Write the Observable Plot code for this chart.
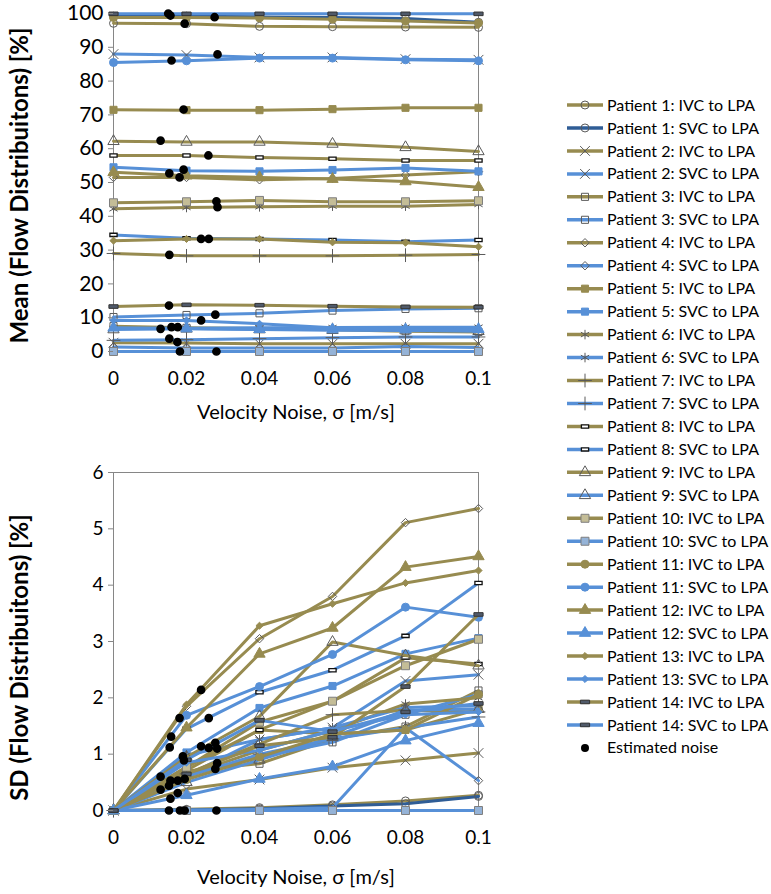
<!DOCTYPE html>
<html><head><meta charset="utf-8">
<script src="https://cdn.jsdelivr.net/npm/d3@7"></script>
<script src="https://cdn.jsdelivr.net/npm/@observablehq/plot@0.6"></script>
<style>
body{margin:0;background:#fff;font-family:Lato,"Open Sans",sans-serif;}
#wrap{position:relative;width:771px;height:894px;overflow:hidden;}
#top,#bottom,#legend{position:absolute;}
#top{left:0;top:0}
#bottom{left:0;top:430px}
#legend{left:555px;top:0}
svg{overflow:visible}
</style></head><body>
<div id="wrap"><div id="top"></div><div id="bottom"></div><div id="legend"></div></div>
<script>
const noiseLevels = [0, 0.02, 0.04, 0.06, 0.08, 0.1];
const xTicks = [0, 0.02, 0.04, 0.06, 0.08, 0.1];
const meanTicks = [0, 10, 20, 30, 40, 50, 60, 70, 80, 90, 100];
const sdTicks = [0, 1, 2, 3, 4, 5, 6];
const patients = [1,2,3,4,5,6,7,8,9,10,11,12,13,14];
const routes = ["IVC to LPA", "SVC to LPA"];

// mean flow distribution [%] per series (P1 IVC, P1 SVC, P2 IVC, ...)
const meanValues = [
  [97.1, 97.0, 96.2, 96.1, 96.0, 95.9],
  [99.2, 99.2, 99.0, 98.8, 98.5, 97.4],
  [2.6, 2.5, 2.3, 2.3, 2.3, 2.3],
  [88.0, 87.7, 87.0, 87.0, 86.5, 86.3],
  [7.5, 7.0, 6.8, 6.4, 6.0, 5.8],
  [10.2, 10.8, 11.3, 12.1, 12.6, 12.8],
  [51.5, 51.5, 50.8, 51.2, 52.2, 53.2],
  [1.3, 1.0, 1.0, 1.0, 1.5, 1.2],
  [71.5, 71.4, 71.4, 71.7, 72.1, 72.1],
  [54.5, 53.5, 53.3, 53.7, 54.3, 53.3],
  [42.2, 42.6, 42.8, 43.0, 43.0, 43.5],
  [6.8, 6.9, 7.0, 7.1, 7.2, 7.2],
  [29.0, 28.3, 28.3, 28.3, 28.5, 28.7],
  [3.3, 3.5, 3.8, 4.1, 4.3, 4.3],
  [58.0, 58.0, 57.4, 57.0, 56.5, 56.5],
  [34.5, 33.5, 33.3, 33.0, 32.5, 33.0],
  [62.2, 62.0, 62.0, 61.4, 60.4, 59.2],
  [6.5, 6.7, 6.5, 6.3, 6.2, 6.0],
  [44.0, 44.3, 44.7, 44.3, 44.3, 44.6],
  [0, 0, 0, 0, 0, 0],
  [98.8, 98.8, 98.7, 98.3, 97.8, 97.2],
  [85.5, 86.0, 86.8, 86.8, 86.3, 86.0],
  [53.0, 52.0, 51.5, 51.0, 50.3, 48.6],
  [7.0, 6.8, 6.6, 6.5, 6.5, 6.6],
  [32.8, 33.3, 33.3, 32.3, 32.2, 31.0],
  [9.2, 9.2, 8.2, 7.0, 6.5, 6.3],
  [13.3, 13.8, 13.7, 13.4, 13.2, 13.1],
  [99.9, 99.9, 99.9, 99.9, 99.9, 99.9]
];

// SD of flow distribution [%] per series
const sdValues = [
  [0, 0.02, 0.05, 0.10, 0.17, 0.27],
  [0, 0.01, 0.03, 0.08, 0.12, 0.25],
  [0, 0.38, 0.55, 0.76, 0.89, 1.02],
  [0, 0.62, 1.26, 1.47, 2.30, 2.41],
  [0, 0.70, 0.83, 1.27, 1.49, 2.13],
  [0, 0.62, 0.95, 1.21, 1.70, 2.06],
  [0, 1.85, 3.05, 3.80, 5.11, 5.36],
  [0, 0.01, 0.02, 0.05, 1.47, 0.53],
  [0, 0.71, 1.43, 1.36, 1.43, 1.80],
  [0, 1.03, 1.82, 2.21, 2.78, 3.06],
  [0, 0.62, 1.07, 1.42, 1.89, 2.00],
  [0, 0.98, 1.26, 1.47, 1.83, 1.86],
  [0, 0.65, 1.18, 1.70, 1.78, 1.75],
  [0, 0.60, 1.00, 1.27, 1.47, 1.66],
  [0, 0.77, 1.43, 1.94, 2.71, 2.60],
  [0, 1.45, 2.10, 2.49, 3.10, 4.04],
  [0, 0.95, 1.67, 2.99, 2.75, 2.57],
  [0, 0.50, 0.90, 1.30, 1.78, 1.80],
  [0, 0.77, 1.57, 1.94, 2.57, 3.04],
  [0, 0, 0, 0, 0, 0],
  [0, 0.55, 0.95, 1.36, 1.43, 2.06],
  [0, 1.69, 2.20, 2.77, 3.61, 3.43],
  [0, 1.47, 2.78, 3.24, 4.32, 4.51],
  [0, 0.27, 0.56, 0.78, 1.24, 1.55],
  [0, 1.88, 3.28, 3.67, 4.04, 4.26],
  [0, 0.85, 1.07, 1.42, 1.70, 1.75],
  [0, 0.65, 1.15, 1.30, 2.20, 3.48],
  [0, 0.90, 1.60, 1.40, 1.75, 1.90]
];

// Estimated noise points
const estMeanX = [0.0150,0.0156,0.0277,0.0195,0.0159,0.0285,0.0192,0.0129,0.0260,0.0153,0.0192,0.0181,0.0282,0.0285,0.0240,0.0261,0.0153,0.0152,0.0279,0.0240,0.0129,0.0159,0.0176,0.0153,0.0175,0.0182,0.0282];
const estMeanY = [100,99.4,98.9,97.0,86.1,87.9,71.6,62.4,58.0,52.7,53.8,51.5,44.4,42.7,33.3,33.3,28.6,13.6,10.9,9.2,6.7,7.2,7.2,3.8,2.8,0,0];
const estSdX = [0.0240,0.0181,0.0261,0.0158,0.0154,0.0190,0.0193,0.0240,0.0261,0.0279,0.0284,0.0284,0.0279,0.0129,0.0129,0.0156,0.0152,0.0176,0.0195,0.0156,0.0176,0.0152,0.0182,0.0195,0.0282];
const estSdY = [2.14,1.64,1.64,1.31,1.12,0.96,0.89,1.14,1.11,1.20,1.10,0.84,0.74,0.60,0.37,0.53,0.44,0.53,0.56,0.21,0.31,0,0,0,0];

// ---------- styles ----------
const OLIVE = "#978B50", BLUE = "#5790D7", DARKBLUE = "#2F5D96", MK = "#5a5a5a", AXIS = "#868686";
const rectSmall = {draw(ctx, size){const r=Math.sqrt(size/Math.PI);const w=r*1.0,h=r*0.45;ctx.moveTo(-w,-h);ctx.lineTo(w,-h);ctx.lineTo(w,h);ctx.lineTo(-w,h);ctx.closePath();}};
const rectDark = {draw(ctx, size){const r=Math.sqrt(size/Math.PI);const w=r*1.15,h=r*0.45;ctx.moveTo(-w,-h);ctx.lineTo(w,-h);ctx.lineTo(w,h);ctx.lineTo(-w,h);ctx.closePath();}};

function styleFor(p, isSvc){
  const line = isSvc ? (p === 1 ? DARKBLUE : BLUE) : OLIVE;
  const s = {line, symbol:"circle", fill:"none", stroke:MK, r:4, sw:1};
  switch(p){
    case 1: s.symbol="circle"; break;
    case 2: s.symbol="times"; s.r=4.5; break;
    case 3: s.symbol="square"; break;
    case 4: s.symbol="diamond2"; s.r=3.8; break;
    case 5: s.symbol="square"; s.fill=line; s.stroke=line; break;
    case 6: s.symbol="asterisk"; s.r=4.5; break;
    case 7: s.symbol="plus"; s.r=4.5; break;
    case 8: s.symbol=rectSmall; s.fill="#fff"; s.stroke="#111"; s.r=3.6; s.sw=1.3; break;
    case 9: s.symbol="triangle"; s.r=4.2; break;
    case 10: s.symbol="square"; s.fill = isSvc ? "#95B3D7" : "#C4BD97"; s.stroke="#7f7f7f"; s.r=4.5; break;
    case 11: s.symbol="circle"; s.fill=line; s.stroke=line; break;
    case 12: s.symbol="triangle"; s.fill=line; s.stroke=line; s.r=4.2; break;
    case 13: s.symbol="diamond2"; s.fill=line; s.stroke=line; s.r=3.2; break;
    case 14: s.symbol=rectDark; s.fill="#505a6a"; s.stroke="#333"; s.r=4; break;
  }
  return s;
}

const series = [];
patients.forEach(p => routes.forEach((rt, k) => {
  series.push({name:`Patient ${p}: ${rt}`, p, isSvc:k===1, style:styleFor(p, k===1)});
}));

function seriesMarks(values){
  const marks = [];
  series.forEach((s, i) => {
    const rows = noiseLevels.map((x, j) => ({x, y: values[i][j]}));
    marks.push(Plot.line(rows, {x:"x", y:"y", stroke:s.style.line, strokeWidth:3, strokeLinejoin:"round"}));
    marks.push(Plot.dot(rows, {x:"x", y:"y", symbol:s.style.symbol, r:s.style.r, fill:s.style.fill, stroke:s.style.stroke, strokeWidth:s.style.sw}));
  });
  return marks;
}

const fmt = d => String(+d.toFixed(2));
const FONT = "Lato, 'Open Sans', sans-serif";

function panel({height, marginTop, marginBottom, domain, ticks, yFont, values, estX, estY, ytitle, ytitleDy, titleDy}){
  return Plot.plot({
    width: 540, height, marginLeft: 113, marginRight: 62, marginTop, marginBottom,
    style: {fontSize: "19px", fontFamily: FONT, color: "#000", background: "transparent", overflow: "visible"},
    x: {domain: [0, 0.1]},
    y: {domain},
    marks: [
      Plot.frame({stroke: AXIS, strokeWidth: 1}),
      ...seriesMarks(values),
      Plot.dot(estX.map((x, i) => ({x, y: estY[i]})), {x:"x", y:"y", r:3.6, fill:"#000", stroke:"#000"}),
      Plot.axisY({ticks, tickSize: 5, tickPadding: 5, stroke: AXIS, label: null, fontSize: yFont, tickFormat: d => String(d)}),
      Plot.axisX({ticks: xTicks, tickSize: 0, tickPadding: 20, tickFormat: fmt, label: null, fontSize: 19}),
      Plot.text([ytitle], {frameAnchor: "left", dx: -93, dy: ytitleDy, rotate: -90, textAnchor: "middle", lineAnchor: "middle", text: d => d, fontWeight: "bold", fontSize: 24, letterSpacing: 1}),
      Plot.text(["Velocity Noise, σ [m/s]"], {frameAnchor: "bottom", dy: titleDy, textAnchor: "middle", lineAnchor: "middle", text: d => d, fontSize: 20})
    ]
  });
}

document.getElementById("top").appendChild(panel({
  height: 430, marginTop: 13, marginBottom: 79, domain: [0, 100], ticks: meanTicks, yFont: 21,
  values: meanValues, estX: estMeanX, estY: estMeanY, ytitle: "Mean (Flow Distribuitons) [%]", ytitleDy: 3, titleDy: 61
}));
document.getElementById("bottom").appendChild(panel({
  height: 464, marginTop: 42, marginBottom: 84, domain: [0, 6], ticks: sdTicks, yFont: 19,
  values: sdValues, estX: estSdX, estY: estSdY, ytitle: "SD (Flow Distribuitons) [%]", ytitleDy: 16, titleDy: 67
}));

// ---------- legend ----------
const symMap = {circle:d3.symbolCircle, times:d3.symbolTimes, square:d3.symbolSquare, diamond2:d3.symbolDiamond2, asterisk:d3.symbolAsterisk, plus:d3.symbolPlus, triangle:d3.symbolTriangle};
const lg = d3.create("svg").attr("width", 216).attr("height", 894).style("font-family", FONT);
const step = 22.96, y0 = 105, LFONT = 16;
series.forEach((s, i) => {
  const y = y0 + i * step;
  const g = lg.append("g");
  g.append("line").attr("x1", 12).attr("x2", 48).attr("y1", y).attr("y2", y).attr("stroke", s.style.line).attr("stroke-width", 3.5);
  const t = typeof s.style.symbol === "string" ? symMap[s.style.symbol] : s.style.symbol;
  g.append("path").attr("d", d3.symbol(t, Math.PI * s.style.r * s.style.r)()).attr("transform", `translate(30,${y})`)
    .attr("fill", s.style.fill).attr("stroke", s.style.stroke).attr("stroke-width", s.style.sw);
  g.append("text").attr("x", 52).attr("y", y).attr("dy", "0.35em").attr("font-size", LFONT).text(s.name);
});
{
  const y = y0 + series.length * step;
  lg.append("circle").attr("cx", 30).attr("cy", y).attr("r", 4).attr("fill", "#000");
  lg.append("text").attr("x", 52).attr("y", y).attr("dy", "0.35em").attr("font-size", LFONT).text("Estimated noise");
}
document.getElementById("legend").appendChild(lg.node());
</script>
</body></html>
